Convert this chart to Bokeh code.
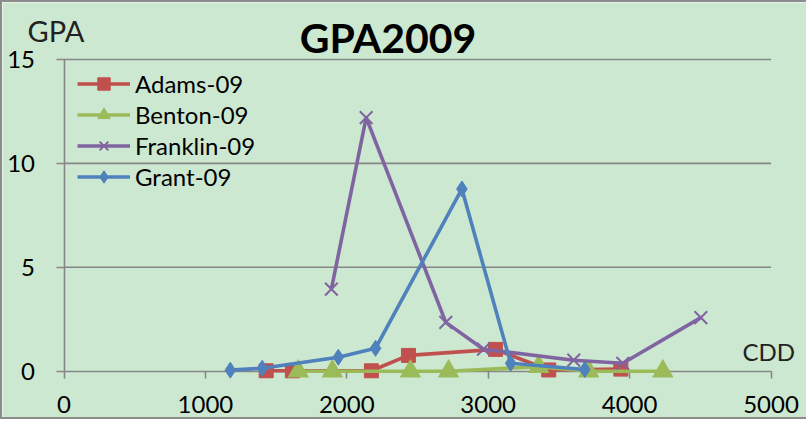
from bokeh.plotting import figure
from bokeh.models import (Range1d, FixedTicker, LinearAxis, Legend, LegendItem,
                          Label, ColumnDataSource)
from bokeh.embed import file_html
from bokeh.resources import INLINE

# ---------------- data ----------------
title_text = "GPA2009"
y_title = "GPA"
x_title = "CDD"
x_ticks = [0, 1000, 2000, 3000, 4000, 5000]
y_ticks = [0, 5, 10, 15]
grid_ticks = [5, 10, 15]

series_names = ["Adams-09", "Benton-09", "Franklin-09", "Grant-09"]

adams_cdd = [1430, 1615, 2174, 2436, 3052, 3428, 3938]
adams_gpa = [0.02, 0.02, 0.02, 0.76, 1.05, 0.06, 0.10]

benton_cdd = [1657, 1898, 2450, 2720, 3357, 3711, 4235]
benton_gpa = [0.0, 0.0, 0.0, 0.0, 0.22, 0.0, 0.0]

franklin_cdd = [1891, 2137, 2700, 2967, 3605, 3952, 4504]
franklin_gpa = [3.95, 12.2, 2.35, 1.06, 0.53, 0.38, 2.58]

grant_cdd = [1176, 1402, 1940, 2203, 2814, 3159, 3683]
grant_gpa = [0.05, 0.14, 0.67, 1.10, 8.77, 0.38, 0.08]

# ---------------- style ----------------
BG = "#CDE8D0"
AXIS_COL = "#868686"
FONT = "Lato"
colors = ["#C0504D", "#9BBB59", "#8064A2", "#4F81BD"]

W, H = 806, 419
ZERO_X = 61.5          # canvas px of CDD = 0
PX_PER_CDD = 707 / 5000
ZERO_Y = 368.7         # canvas px of GPA = 0
PX_PER_GPA = 20.78


def px2x(px):
    return (px - ZERO_X) / PX_PER_CDD


def px2y(py):
    return (ZERO_Y - py) / PX_PER_GPA


p = figure(width=W, height=H,
           x_range=Range1d(px2x(0), px2x(W)),
           y_range=Range1d(px2y(H), px2y(0)),
           output_backend="svg", toolbar_location=None,
           x_axis_type=None, y_axis_type=None,
           min_border_left=0, min_border_right=0,
           min_border_top=0, min_border_bottom=0,
           background_fill_color=BG, border_fill_color=BG,
           outline_line_color=None)
p.styles = {"border-left": "2px solid #8c8c8c",
            "border-top": "2px solid #8c8c8c",
            "border-bottom": "2px solid #8c8c8c"}

# horizontal gridlines (limited to the axis extent)
p.segment(x0=[x_ticks[0]] * len(grid_ticks), x1=[x_ticks[-1]] * len(grid_ticks),
          y0=grid_ticks, y1=grid_ticks, line_color=AXIS_COL, line_width=1.6)

# axes
axis_style = dict(axis_line_color=AXIS_COL, axis_line_width=1.6,
                  major_tick_line_color=AXIS_COL, major_tick_line_width=1.6,
                  major_tick_in=0, minor_tick_line_color=None,
                  major_label_text_font=FONT,
                  major_label_text_font_size="24px",
                  major_label_text_color="black",
                  level="underlay")

xaxis = LinearAxis(ticker=FixedTicker(ticks=x_ticks), fixed_location=0,
                   bounds=(x_ticks[0], x_ticks[-1]),
                   major_tick_out=7, major_label_standoff=18, **axis_style)
p.add_layout(xaxis, "below")

yaxis = LinearAxis(ticker=FixedTicker(ticks=y_ticks), fixed_location=0,
                   bounds=(y_ticks[0], y_ticks[-1]),
                   major_tick_out=8, major_label_standoff=21, **axis_style)
p.add_layout(yaxis, "left")

# series
all_data = [(adams_cdd, adams_gpa, "square", 14),
            (benton_cdd, benton_gpa, "triangle", 20),
            (franklin_cdd, franklin_gpa, "x", 18),
            (grant_cdd, grant_gpa, "diamond", 16)]

items = []
for name, col, (xs, ys, marker, size) in zip(series_names, colors, all_data):
    src = ColumnDataSource(dict(x=xs, y=ys))
    lr = p.line("x", "y", source=src, line_color=col, line_width=3.6)
    if marker == "x":
        sr = p.scatter("x", "y", source=src, marker=marker, size=size,
                       line_color=col, line_width=2)
    else:
        sr = p.scatter("x", "y", source=src, marker=marker, size=size,
                       fill_color=col, line_color=col, line_width=1)
    items.append(LegendItem(label=name, renderers=[lr, sr]))

legend = Legend(items=items, location=(75, 229.2),
                padding=0, margin=0, spacing=0,
                glyph_width=53, glyph_height=31, label_height=31,
                label_standoff=5,
                label_text_font=FONT, label_text_font_size="24px",
                label_text_color="black",
                background_fill_alpha=0, border_line_color=None)
p.add_layout(legend)

# texts
p.add_layout(Label(x=px2x(385.5), y=px2y(34.7), text=title_text,
                   text_align="center", text_baseline="alphabetic",
                   text_font=FONT, text_font_style="bold",
                   text_font_size="41px", text_color="black"))
p.add_layout(Label(x=px2x(25), y=px2y(27.7), text=y_title,
                   text_align="left", text_baseline="alphabetic",
                   text_font=FONT, text_font_size="29px",
                   text_color="#222222"))
p.add_layout(Label(x=px2x(740), y=px2y(349), text=x_title,
                   text_align="left", text_baseline="alphabetic",
                   text_font=FONT, text_font_size="24px",
                   text_color="#222222"))

open("out.html", "w").write(file_html(p, INLINE))
